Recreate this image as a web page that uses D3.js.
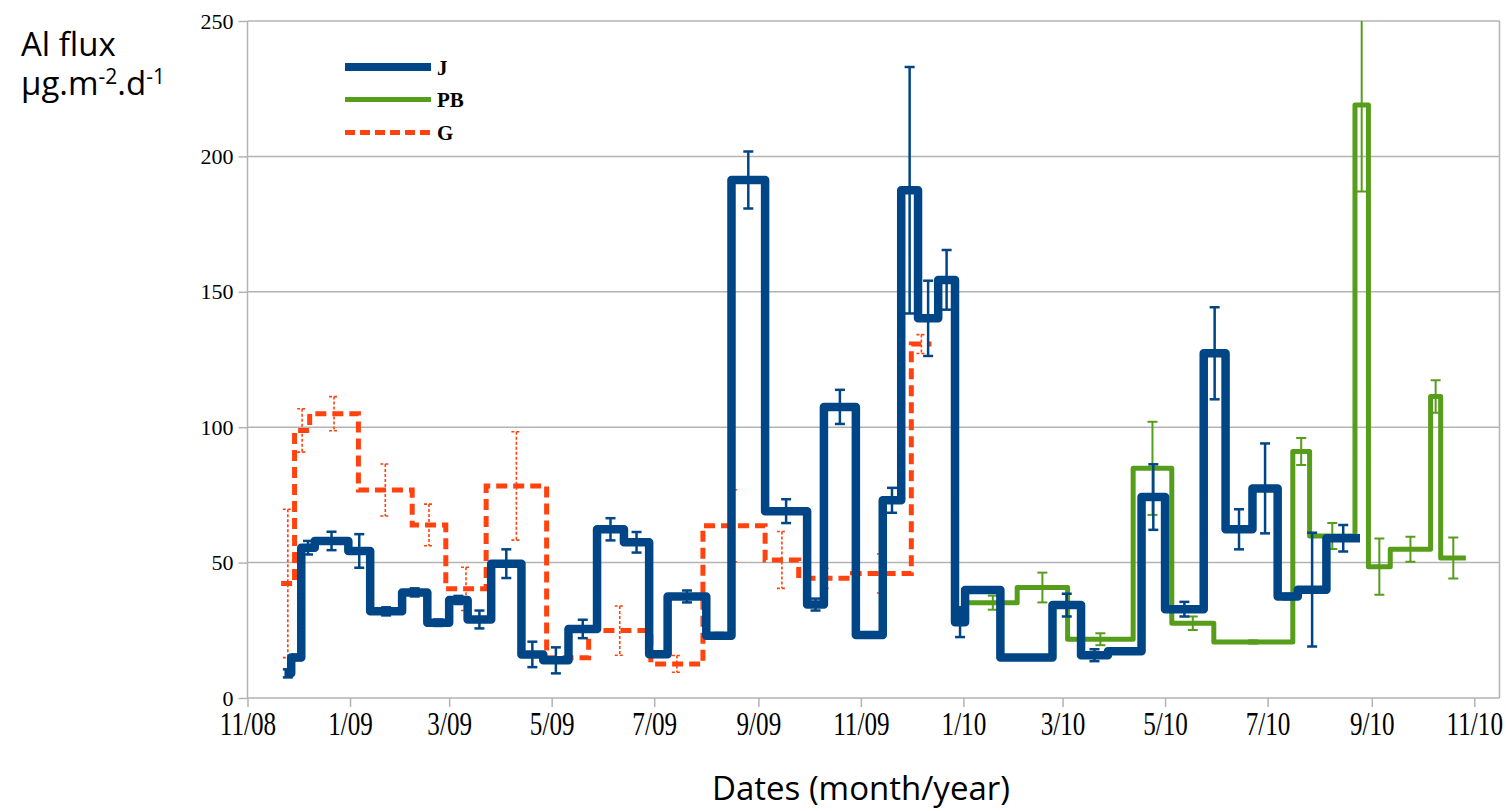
<!DOCTYPE html>
<html><head><meta charset="utf-8">
<script src="https://cdn.jsdelivr.net/npm/d3@7"></script>
<style>body{margin:0;background:#fff}</style>
</head><body><svg id="c" width="1506" height="811"></svg>
<script>
// ---- data (boundaries of sampling periods, flux values, error half-widths) ----
const jDates = ["2008-11-23","2008-11-27","2008-12-03","2008-12-11","2008-12-31","2009-01-13","2009-02-01","2009-02-16","2009-03-01","2009-03-12","2009-03-26","2009-04-13","2009-04-26","2009-05-11","2009-05-28","2009-06-13","2009-06-28","2009-07-09","2009-08-01","2009-08-16","2009-09-05","2009-09-30","2009-10-10","2009-10-29","2009-11-14","2009-11-25","2009-12-05","2009-12-17","2009-12-27","2010-01-02","2010-01-23","2010-02-23","2010-03-12","2010-03-28","2010-04-17","2010-05-01","2010-05-24","2010-06-06","2010-06-22","2010-07-07","2010-07-19","2010-08-05","2010-08-25"];
const jValues = [9.1,15,55.5,58,54.3,32,39,27.8,36.2,29,49.6,16.1,13.9,25.5,62.3,57.5,16.2,37.5,23,191.3,69,34.5,107.5,23.3,73,187.5,140.2,154.4,28,39.9,15,34.3,15.8,17.3,74.2,32.8,127.3,62.3,77.4,37.5,40,59];
const jErrors = [1.5,1,2.5,3.4,6.2,1.5,1.5,1.2,1.5,3.3,5.3,4.7,4.8,3.4,4.1,3.8,1,2.2,1,10.5,4.4,2.2,6.3,1,4.6,45.5,13.9,11,5.5,1,0,4.2,2.2,0,12.1,2.7,17,7.4,16.6,1,21,4.9];

const pbDates = ["2010-01-04","2010-02-02","2010-03-04","2010-04-12","2010-05-05","2010-05-30","2010-07-16","2010-07-26","2010-08-22","2010-08-30","2010-09-12","2010-10-06","2010-10-12","2010-10-27"];
const pbValues = [35.2,40.8,21.7,84.8,27.6,20.7,91,59.8,219,48.5,54.9,111.3,51.7];
const pbErrors = [2.6,5.5,2.2,17.2,2.5,0.6,5,4.8,32,10.4,4.6,6,7.6];

const gDates = ["2008-11-21","2008-11-29","2008-12-08","2009-01-06","2009-02-07","2009-02-27","2009-03-23","2009-04-28","2009-05-23","2009-06-29","2009-07-30","2009-09-05","2009-09-25","2009-10-27","2009-12-01","2009-12-13"];
const gValues = [42.3,98.8,105,76.8,63.9,40.3,78.3,14.9,24.9,12.6,63.6,51,44.2,46,130.7];
const gErrors = [27.4,8,6.3,9.6,7.7,8,20,0,9.1,3.1,13.3,10.5,3.7,7.2,3.5];

const yTicks = [0,50,100,150,200,250];
const xTickDates = ["2008-11-01","2009-01-01","2009-03-01","2009-05-01","2009-07-01","2009-09-01","2009-11-01","2010-01-01","2010-03-01","2010-05-01","2010-07-01","2010-09-01","2010-11-01"];
const xTickLabels = ["11/08","1/09","3/09","5/09","7/09","9/09","11/09","1/10","3/10","5/10","7/10","9/10","11/10"];
const seriesNames = ["J","PB","G"];

// ---- setup ----
const parse = d3.timeParse("%Y-%m-%d");
const svg = d3.select("#c");
const L = 247.5, R = 1499.5, T = 21, B = 698;
const x = d3.scaleTime().domain([parse("2008-11-01"), parse("2010-11-16")]).range([L, R]);
const y = d3.scaleLinear().domain([0, 250]).range([B, T]);
const gridCol = "#b3b3b3";

svg.append("rect").attr("width",1506).attr("height",811).attr("fill","#fff");

// gridlines
svg.append("g").selectAll("line").data(yTicks.filter(d=>d>0)).join("line")
  .attr("x1", L).attr("x2", R).attr("y1", d=>y(d)).attr("y2", d=>y(d))
  .attr("stroke", gridCol).attr("stroke-width", 1.5);
// right border
svg.append("line").attr("x1",R).attr("x2",R).attr("y1",T).attr("y2",B)
  .attr("stroke",gridCol).attr("stroke-width",1.5);

// y axis
const yAxis = svg.append("g").attr("transform",`translate(${L},0)`)
  .call(d3.axisLeft(y).tickValues(yTicks).tickSize(9).tickPadding(5));
yAxis.select(".domain").attr("stroke",gridCol).attr("stroke-width",1.5).attr("d",`M0,${T}V${B}`);
yAxis.selectAll(".tick line").attr("stroke",gridCol).attr("stroke-width",1.5);
yAxis.selectAll(".tick text").attr("font-family","'Liberation Serif', serif").attr("font-size",22).attr("fill","#000");

// x axis
const tickDates = xTickDates.map(parse);
const xAxis = svg.append("g").attr("transform",`translate(0,${B})`)
  .call(d3.axisBottom(x).tickValues(tickDates).tickSize(9).tickFormat((d,i)=>xTickLabels[i]));
xAxis.select(".domain").attr("stroke",gridCol).attr("stroke-width",1.5).attr("d",`M${L},0H${R}`);
xAxis.selectAll(".tick line").attr("stroke",gridCol).attr("stroke-width",1.5);
xAxis.selectAll(".tick text").attr("font-family","'Liberation Serif', serif").attr("font-size",34)
  .attr("fill","#000").attr("y",37).attr("dy",0).attr("transform","scale(0.74,1)");

// clip
svg.append("clipPath").attr("id","plot").append("rect")
  .attr("x",L).attr("y",T).attr("width",R-L).attr("height",B-T);

function stepSeries(dates, values){
  const pts = values.map((v,i)=>({d:parse(dates[i]), v}));
  pts.push({d:parse(dates[dates.length-1]), v:values[values.length-1]});
  return pts;
}
const line = d3.line().x(p=>x(p.d)).y(p=>y(p.v)).curve(d3.curveStepAfter);

function errData(dates, values, errs){
  return values.map((v,i)=>{
    const a = parse(dates[i]), b = parse(dates[i+1]);
    return {d:new Date((+a + +b)/2), v, e:errs[i]};
  }).filter(o=>o.e>0);
}
function drawErr(g, data, col, w, cap, dash){
  const sel = g.selectAll("g.eb").data(data).join("g").attr("class","eb");
  const common = s => s.attr("stroke",col).attr("stroke-width",w).attr("stroke-dasharray",dash||null);
  common(sel.append("line").attr("x1",p=>x(p.d)).attr("x2",p=>x(p.d)).attr("y1",p=>y(p.v+p.e)).attr("y2",p=>y(p.v-p.e)));
  common(sel.append("line").attr("x1",p=>x(p.d)-cap).attr("x2",p=>x(p.d)+cap).attr("y1",p=>y(p.v+p.e)).attr("y2",p=>y(p.v+p.e)));
  common(sel.append("line").attr("x1",p=>x(p.d)-cap).attr("x2",p=>x(p.d)+cap).attr("y1",p=>y(p.v-p.e)).attr("y2",p=>y(p.v-p.e)));
}

const cJ = "#004586", cPB = "#579d1c", cG = "#ff420e";

// G
svg.append("path").attr("d", line(stepSeries(gDates,gValues))).attr("fill","none")
  .attr("stroke",cG).attr("stroke-width",5).attr("stroke-dasharray","11,6");
drawErr(svg.append("g").attr("clip-path","url(#plot)"), errData(gDates,gValues,gErrors), cG, 1.6, 5, "3,2");
// PB
svg.append("path").attr("d", line(stepSeries(pbDates,pbValues))).attr("fill","none")
  .attr("stroke",cPB).attr("stroke-width",5).attr("stroke-linejoin","round");
drawErr(svg.append("g").attr("clip-path","url(#plot)"), errData(pbDates,pbValues,pbErrors), cPB, 2, 5);
// J
svg.append("path").attr("d", line(stepSeries(jDates,jValues))).attr("fill","none")
  .attr("stroke",cJ).attr("stroke-width",8.5).attr("stroke-linejoin","round");
drawErr(svg.append("g").attr("clip-path","url(#plot)"), errData(jDates,jValues,jErrors), cJ, 2.5, 5);

// legend
const leg = [{c:cJ,w:8,dash:null,y:67},{c:cPB,w:5,dash:null,y:99.5},{c:cG,w:5,dash:"10,5",y:132.5}];
leg.forEach((l,i)=>{
  svg.append("line").attr("x1",345).attr("x2",431).attr("y1",l.y).attr("y2",l.y)
    .attr("stroke",l.c).attr("stroke-width",l.w).attr("stroke-dasharray",l.dash);
  svg.append("text").attr("x",437).attr("y",l.y+7.5).text(seriesNames[i])
    .attr("font-family","'Liberation Serif', serif").attr("font-weight","bold").attr("font-size",21);
});

// titles
const yt = svg.append("text").attr("font-family","'Open Sans', sans-serif").attr("font-size",33).attr("fill","#000");
yt.append("tspan").attr("x",21).attr("y",56).text("Al flux");
const l2 = svg.append("text").attr("font-family","'Open Sans', sans-serif").attr("font-size",33).attr("fill","#000").attr("x",21).attr("y",95);
l2.append("tspan").text("µg.m");
l2.append("tspan").attr("font-size",21).attr("dy",-11).text("-2");
l2.append("tspan").attr("dy",11).text(".d");
l2.append("tspan").attr("font-size",21).attr("dy",-11).text("-1");

svg.append("text").attr("x",861).attr("y",800).attr("text-anchor","middle")
  .attr("font-family","'Open Sans', sans-serif").attr("font-size",33).attr("fill","#000")
  .text("Dates (month/year)");
</script></body></html>
